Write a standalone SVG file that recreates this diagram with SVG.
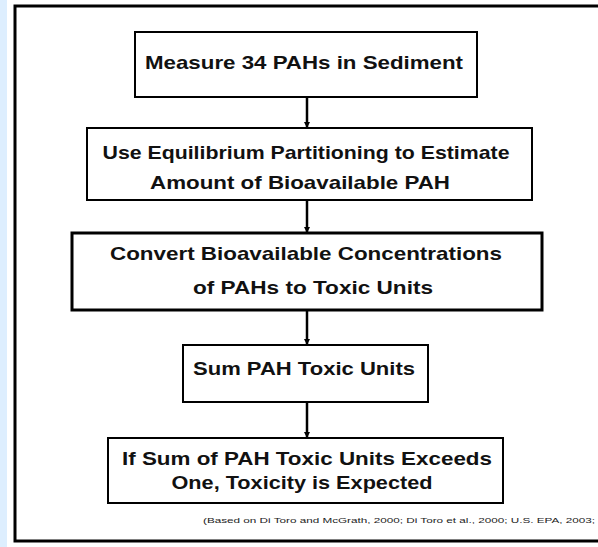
<svg xmlns="http://www.w3.org/2000/svg" width="598" height="547" viewBox="0 0 598 547">
<style>
.box{fill:#fff;stroke:#000;stroke-width:2}
.thick{stroke-width:3}
.t{font-family:"Liberation Sans",Arial,sans-serif;font-weight:bold;font-size:19px;fill:#111;text-anchor:middle}
.c{stroke:#000;stroke-width:2.5;fill:none;marker-end:url(#ah)}
.f{font-family:"Liberation Sans",Arial,sans-serif;font-size:8px;fill:#222}
</style>
<defs>
<marker id="ah" markerWidth="6" markerHeight="6" refX="5" refY="3" orient="auto" markerUnits="userSpaceOnUse">
<path d="M0,0 L6,3 L0,6 z" fill="#000"/>
</marker>
</defs>
<rect x="0" y="0" width="598" height="547" fill="#fff"/>
<rect x="0" y="0" width="7" height="547" fill="#ddeefe"/>
<rect x="15" y="6" width="590" height="535" fill="#fff" stroke="#000" stroke-width="3"/>
<g id="connectors">
<line class="c" x1="307" y1="97" x2="307" y2="127"/>
<line class="c" x1="307" y1="200" x2="307" y2="232"/>
<line class="c" x1="307" y1="310" x2="307" y2="344"/>
<line class="c" x1="307" y1="402" x2="307" y2="437"/>
</g>
<g id="n1">
<rect class="box" x="135" y="32" width="342" height="65"/>
<text class="t" x="304" y="69" textLength="318" lengthAdjust="spacingAndGlyphs">Measure 34 PAHs in Sediment</text>
</g>
<g id="n2">
<rect class="box" x="87" y="128" width="445" height="72"/>
<text class="t" x="306" y="159" textLength="407" lengthAdjust="spacingAndGlyphs">Use Equilibrium Partitioning to Estimate</text>
<text class="t" x="300" y="189" textLength="300" lengthAdjust="spacingAndGlyphs">Amount of Bioavailable PAH</text>
</g>
<g id="n3">
<rect class="box thick" x="72" y="233" width="470" height="77"/>
<text class="t" x="306" y="260" textLength="392" lengthAdjust="spacingAndGlyphs">Convert Bioavailable Concentrations</text>
<text class="t" x="313" y="294" textLength="240" lengthAdjust="spacingAndGlyphs">of PAHs to Toxic Units</text>
</g>
<g id="n4">
<rect class="box" x="183" y="345" width="245" height="57"/>
<text class="t" x="304" y="375" textLength="222" lengthAdjust="spacingAndGlyphs">Sum PAH Toxic Units</text>
</g>
<g id="n5">
<rect class="box" x="108" y="438" width="395" height="65"/>
<text class="t" x="307" y="465" textLength="370" lengthAdjust="spacingAndGlyphs">If Sum of PAH Toxic Units Exceeds</text>
<text class="t" x="302" y="489" textLength="261" lengthAdjust="spacingAndGlyphs">One, Toxicity is Expected</text>
</g>
<text class="f" x="203" y="523" textLength="392" lengthAdjust="spacingAndGlyphs">(Based on Di Toro and McGrath, 2000; Di Toro et al., 2000; U.S. EPA, 2003;</text>
</svg>
